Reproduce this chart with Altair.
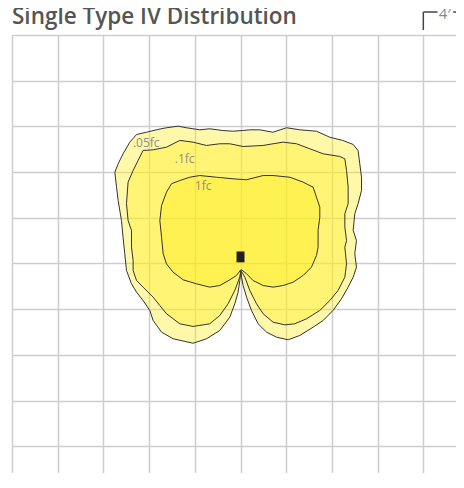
import altair as alt
import pandas as pd

# ---- data (feet, fixture at origin; one grid cell = 4 ft) ----
outer_x = [0.03, -0.06, -0.21, -0.50, -0.94, -1.81, -2.98, -4.15, -5.90, -6.91, -7.65, -7.94, -8.53, -9.10,
           -9.54, -9.98, -10.13, -10.28, -10.42, -10.71, -10.85, -11.00, -10.71, -10.28, -9.69, -9.10, -8.23,
           -7.24, -6.48, -5.46, -4.73, -3.56, -2.69, -1.55, -0.67, 0.20, 0.81, 1.69, 2.83, 4.03, 5.19, 6.65,
           7.82, 8.95, 9.86, 10.29, 10.44, 10.59, 10.59, 10.29, 10.00, 9.86, 10.15, 10.00, 10.15, 9.86, 9.42,
           8.84, 8.10, 7.23, 6.35, 5.19, 4.17, 3.15, 2.28, 1.54, 0.96, 0.53, 0.23, 0.09]
outer_y = [-0.61, -1.49, -2.51, -3.53, -4.70, -5.86, -6.59, -6.98, -6.59, -6.01, -4.99, -4.11, -3.24, -2.51,
           -1.78, -0.61, 0.85, 2.30, 3.76, 5.51, 6.68, 7.99, 8.73, 9.60, 10.62, 11.29, 11.49,
           11.73, 11.88, 12.02, 11.88, 11.70, 11.79, 11.64, 11.58, 11.64, 11.70, 11.70, 11.49, 11.88, 11.70, 11.58,
           11.05, 10.77, 10.42, 9.89, 8.73, 7.55, 6.39, 5.23, 4.35, 2.89, 2.01, 0.85, -0.32, -1.20, -2.07,
           -3.09, -4.11, -4.99, -5.58, -6.30, -6.68, -6.45, -6.01, -5.28, -4.11, -2.95, -1.93, -1.20]

mid_x = [0.03, -0.06, -0.50, -1.09, -1.81, -2.69, -4.15, -5.31, -6.48, -7.06, -7.65, -8.53, -9.10, -9.40,
         -9.40, -9.54, -9.54, -9.84, -9.98, -9.84, -9.40, -8.96, -8.53, -7.65, -6.48, -5.31, -4.15, -2.98,
         -1.81, -0.94, 0.23, 1.98, 2.85, 3.73, 4.90, 6.07, 7.23, 8.69, 9.13, 9.28, 9.42, 9.42, 9.13, 9.13,
         9.28, 9.13, 9.28, 9.13, 8.54, 7.82, 6.94, 5.78, 4.75, 3.88, 2.85, 1.98, 1.40, 0.81, 0.38, 0.09]
mid_y = [-0.61, -1.20, -2.36, -3.53, -4.55, -5.28, -5.51, -5.28, -4.40, -3.68, -2.95, -2.07, -1.49, -0.61,
         0.26, 1.43, 2.89, 3.76, 5.23, 7.12, 8.14, 9.02, 9.89, 9.95, 10.18, 10.77, 10.62, 10.33,
         10.48, 10.48, 10.24, 10.33, 10.48, 10.62, 10.48, 10.04, 9.60, 9.37, 9.16, 8.14, 6.68, 5.23, 4.35, 3.18,
         2.01, 1.43, -0.03, -1.20, -2.36, -3.24, -4.11, -4.84, -5.28, -5.37, -5.14, -4.40, -3.53, -2.36, -1.20, -0.70]

inner_x = [0.03, -0.35, -0.94, -1.81, -2.69, -3.85, -5.02, -5.90, -6.48, -6.77, -6.91, -7.06, -6.91, -6.48,
           -6.04, -5.31, -4.44, -3.56, -2.10, -0.65, 0.53, 1.98, 2.85, 4.32, 5.48, 6.35, 6.65, 6.94, 6.94,
           6.79, 6.79, 6.65, 6.21, 5.48, 4.60, 3.73, 2.85, 1.98, 1.10, 0.53, 0.09]
inner_y = [-0.55, -1.05, -1.43, -1.93, -2.07, -1.78, -1.43, -0.76, -0.03, 0.85, 2.30, 3.76, 5.08, 6.24,
           6.98, 7.26, 7.55, 7.70, 7.55, 7.41, 7.33, 7.70, 7.70, 7.55, 7.12, 6.68, 5.80, 4.93, 4.05,
           2.89, 1.43, 0.70, -0.32, -1.05, -1.64, -1.93, -2.07, -1.93, -1.49, -0.90, -0.55]

label_text = [".05fc", ".1fc", "1fc"]
label_x = [-9.42, -5.75, -4.0]
label_y = [10.18, 8.78, 6.45]

fixture_x = [-0.35]
fixture_x2 = [0.35]
fixture_y = [0.10]
fixture_y2 = [1.05]

grid_x = [-20, -16, -12, -8, -4, 0, 4, 8, 12, 16]
grid_y = [-16, -12, -8, -4, 0, 4, 8, 12, 16, 20]
x_domain = [-20, 18.86]
y_domain = [-18.34, 20]

title_text = "Single Type IV Distribution"
scale_start = 16      # the "4'" bracket starts on this grid line
scale_text_x = 17.35
scale_seg_end = 17.25
scale_seg2_start = 18.62
scale_label = "4\u2032"

FONT = "Open Sans"


def poly(xs, ys):
    n = len(xs)
    return pd.DataFrame({"x": xs + xs[:1], "y": ys + ys[:1], "i": list(range(n + 1))})


xsc = alt.Scale(domain=x_domain, nice=False, zero=False)
ysc = alt.Scale(domain=y_domain, nice=False, zero=False)
xax = alt.Axis(values=grid_x, grid=True, labels=False, ticks=False, domain=False, title=None,
               gridColor="#cdcdcd", gridWidth=1.5)
yax = alt.Axis(values=grid_y, grid=True, labels=False, ticks=False, domain=False, title=None,
               gridColor="#cdcdcd", gridWidth=1.5)
X = alt.X("x:Q", scale=xsc, axis=xax)
Y = alt.Y("y:Q", scale=ysc, axis=yax)


def contour(xs, ys):
    return alt.Chart(poly(xs, ys)).mark_line(
        fill="#FFEC1E", fillOpacity=0.39, stroke="#333333", strokeWidth=1, strokeJoin="round"
    ).encode(x=X, y=Y, order="i:Q")


labels = alt.Chart(pd.DataFrame({"x": label_x, "y": label_y, "t": label_text})).mark_text(
    align="left", baseline="alphabetic", fontSize=12, font=FONT, color="#8f8f8f"
).encode(x=X, y=Y, text="t:N")

fixture = alt.Chart(pd.DataFrame({"x": fixture_x, "x2": fixture_x2, "y": fixture_y, "y2": fixture_y2})).mark_rect(
    color="#231f20"
).encode(x=X, x2="x2:Q", y=Y, y2="y2:Q")

br_v = alt.Chart(pd.DataFrame({"x": [scale_start]})).mark_rule(color="#444444", strokeWidth=1.5).encode(
    x=X, y=alt.value(-23), y2=alt.value(-5))
br_h = alt.Chart(pd.DataFrame({"x": [scale_start], "x2": [scale_seg_end]})).mark_rule(
    color="#444444", strokeWidth=1.5).encode(x=X, x2="x2:Q", y=alt.value(-23))
br_h2 = alt.Chart(pd.DataFrame({"x": [scale_seg2_start], "x2": [x_domain[1]]})).mark_rule(
    color="#444444", strokeWidth=1.5).encode(x=X, x2="x2:Q", y=alt.value(-23))
br_t = alt.Chart(pd.DataFrame({"x": [scale_text_x], "t": [scale_label]})).mark_text(
    align="left", baseline="alphabetic", fontSize=15, font=FONT, color="#8a8a8a"
).encode(x=X, y=alt.value(-16.5), text="t:N")

title = alt.Chart(pd.DataFrame({"t": [title_text]})).mark_text(
    align="left", baseline="alphabetic", fontSize=22.5, font=FONT, fontWeight=600, color="#555555"
).encode(x=alt.value(0), y=alt.value(-11), text="t:N")

chart = alt.layer(
    contour(outer_x, outer_y),
    contour(mid_x, mid_y),
    contour(inner_x, inner_y),
    labels, fixture, br_v, br_h, br_h2, br_t, title,
).properties(
    width=444, height=438,
    autosize=alt.AutoSizeParams(type="none"),
    padding={"left": 4, "top": 27, "right": 0, "bottom": 0},
).configure_view(stroke=None).configure(background="white")

chart.save("out.html", embed_options={"renderer": "svg", "actions": False})
